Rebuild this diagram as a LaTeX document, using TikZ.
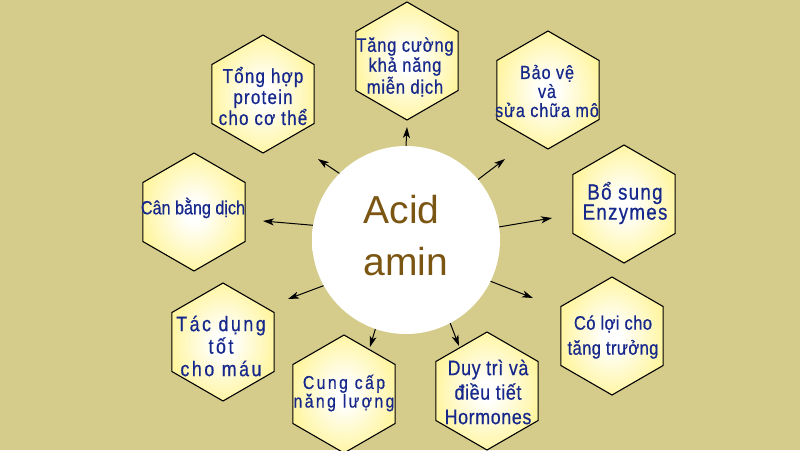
\documentclass[tikz,border=0pt]{standalone}
\usepackage{fontspec}
\setmainfont{Liberation Sans}
\newfontfamily\hexfont[FakeStretch=0.85,FakeBold=0.6]{Liberation Sans}
\newfontfamily\ctrfont{Liberation Sans}
\usetikzlibrary{shapes.geometric,arrows.meta}
\definecolor{bgcol}{RGB}{213,204,140}
\definecolor{hexyel}{RGB}{255,245,160}
\definecolor{hexblue}{RGB}{22,40,140}
\definecolor{ctrbrown}{RGB}{123,85,18}
\definecolor{cream}{RGB}{255,250,215}
\pgfdeclareradialshading{hexshade}{\pgfpoint{0bp}{0bp}}{color(0bp)=(white); color(4bp)=(white); color(26bp)=(hexyel); color(50bp)=(hexyel)}
\pgfdeclareradialshading{ctrshade}{\pgfpoint{0bp}{0bp}}{color(0bp)=(white); color(43bp)=(white); color(47bp)=(cream); color(50bp)=(bgcol)}
\newcommand\hxf[3]{\hexfont\addfontfeature{LetterSpace=#3}\fontsize{#1}{#2}\selectfont}
\tikzset{
  hexa/.style={regular polygon, regular polygon sides=6, shape border rotate=30,
    minimum size=118pt, inner sep=0pt, draw=black, line width=1.1pt, shading=hexshade},
  txt/.style={text=hexblue, align=center, inner sep=0pt},
  arr/.style={-{Stealth[length=11pt,width=7pt,inset=3pt]}, line width=1pt, black},
}
\begin{document}
\begin{tikzpicture}[x=1pt,y=-1pt]
\useasboundingbox (0,0) rectangle (800,450);
\fill[bgcol] (0,0) rectangle (800,450);

% hexagons
\node[hexa] (h1) at (263,94) {};
\node[hexa] (h2) at (407,61) {};
\node[hexa] (h3) at (548,90) {};
\node[hexa] (h4) at (624,204) {};
\node[hexa] (h5) at (612,336) {};
\node[hexa] (h6) at (487,391) {};
\node[hexa] (h7) at (344,394) {};
\node[hexa] (h8) at (223,342) {};
\node[hexa] (h9) at (194,212) {};

% texts
\node[txt, font={\hxf{20}{21}{6}}] (l1) at (263,96) {Tổng hợp\\protein\\cho cơ thể};
\node[txt, font={\hxf{19.5}{20}{4}}] (l2) at (405,67) {Tăng cường\\khả năng\\miễn dịch};
\node[txt, font={\hxf{19}{19}{5}}] (l3) at (547,91) {Bảo vệ\\và\\sửa chữa mô};
\node[txt, font={\hxf{22}{20}{6}}] (l4) at (625,203) {Bổ sung\\Enzymes};
\node[txt, font={\hxf{19.5}{25}{2}}] (l5) at (613,337) {Có lợi cho\\tăng trưởng};
\node[txt, font={\hxf{21}{24.5}{3}}] (l6) at (488,392) {Duy trì và\\điều tiết\\Hormones};
\node[txt, font={\hxf{18.6}{17}{13}}] (l7) at (344,393) {Cung cấp\\năng lượng};
\node[txt, font={\hxf{21}{22.5}{12}}] (l8) at (221,346) {Tác dụng\\tốt\\cho máu};
\node[txt, font={\hxf{19}{20}{0}}] (l9) at (193,208) {Cân bằng dịch};

% tips
\coordinate (t2) at (407,127);
\coordinate (t1) at (318,159);
\coordinate (t3) at (505,159);
\coordinate (t4) at (552,218);
\coordinate (t5) at (533,298);
\coordinate (t6) at (459,346);
\coordinate (t7) at (370,347);
\coordinate (t8) at (288,299);
\coordinate (t9) at (263,221);

% centre
\node[circle, minimum size=188pt, inner sep=0pt, shading=ctrshade] (c) at (406,240) {};
\node[align=left, inner sep=0pt, text=ctrbrown, font={\ctrfont\fontsize{39}{52}\selectfont}] (ct) at (406,236) {Acid\\amin};

% arrows
\draw[arr] (c.90) -- (t2);
\draw[arr] (c.135) -- (t1);
\draw[arr] (c.40) -- (t3);
\draw[arr] (c.8) -- (t4);
\draw[arr] (c.-26) -- (t5);
\draw[arr] (c.-62) -- (t6);
\draw[arr] (c.-109) -- (t7);
\draw[arr] (c.-151) -- (t8);
\draw[arr] (c.171) -- (t9);
\end{tikzpicture}
\end{document}
